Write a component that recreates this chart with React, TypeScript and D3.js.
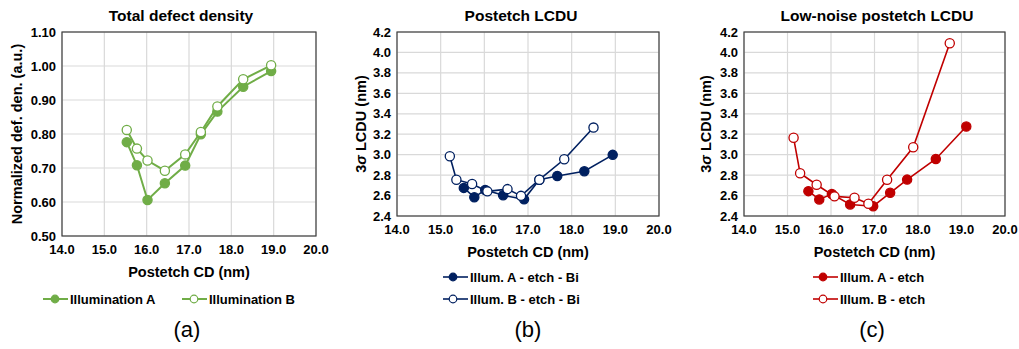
import React, { useRef, useEffect } from "react";
import * as d3 from "d3";

// Panel (a): total defect density
const defCdA = [15.53, 15.77, 16.02, 16.43, 16.91, 17.28, 17.67, 18.28, 18.94];
const defValA = [0.776, 0.708, 0.606, 0.655, 0.707, 0.799, 0.866, 0.939, 0.985];
const defCdB = [15.53, 15.77, 16.02, 16.43, 16.91, 17.28, 17.67, 18.28, 18.94];
const defValB = [0.812, 0.757, 0.722, 0.692, 0.74, 0.806, 0.881, 0.961, 1.002];

// Panel (b): postetch LCDU
const lcduCdA = [15.53, 15.77, 16.02, 16.43, 16.91, 17.26, 17.67, 18.29, 18.94];
const lcduValA = [2.675, 2.583, 2.655, 2.603, 2.563, 2.755, 2.792, 2.838, 2.998];
const lcduCdB = [15.21, 15.36, 15.72, 16.07, 16.53, 16.84, 17.26, 17.83, 18.5];
const lcduValB = [2.985, 2.755, 2.713, 2.641, 2.663, 2.597, 2.755, 2.955, 3.265];

// Panel (c): low-noise postetch LCDU
const lnCdA = [15.48, 15.73, 16.02, 16.44, 16.97, 17.36, 17.75, 18.41, 19.11];
const lnValA = [2.643, 2.562, 2.615, 2.513, 2.496, 2.627, 2.756, 2.958, 3.275];
const lnCdB = [15.14, 15.29, 15.67, 16.08, 16.54, 16.86, 17.29, 17.89, 18.73];
const lnValB = [3.165, 2.818, 2.706, 2.592, 2.578, 2.52, 2.755, 3.072, 4.09];

const xTicks = [14, 15, 16, 17, 18, 19, 20];
const defTicks = [0.5, 0.6, 0.7, 0.8, 0.9, 1.0, 1.1];
const lcduTicks = [2.4, 2.6, 2.8, 3.0, 3.2, 3.4, 3.6, 3.8, 4.0, 4.2];

const FONT = "'Liberation Sans', Arial, sans-serif";

interface Series {
  name: string;
  xs: number[];
  ys: number[];
  filled: boolean;
}

interface PanelCfg {
  title: string;
  titleX: number;
  left: number;
  right: number;
  top: number;
  bottom: number;
  yDomain: [number, number];
  yTicks: number[];
  yFmt: (v: number) => string;
  yTitle: string;
  sigma: boolean;
  yTitleX: number;
  color: string;
  lineW: number;
  series: Series[];
  legend: { x0: number; ys: number[] };
  label: string;
  labelX: number;
}

const panels: PanelCfg[] = [
  {
    title: "Total defect density",
    titleX: 181,
    left: 62, right: 316, top: 32, bottom: 236,
    yDomain: [0.5, 1.1], yTicks: defTicks, yFmt: d3.format(".2f"),
    yTitle: "Normalized def. den. (a.u.)", sigma: false, yTitleX: 17,
    color: "#70AD47", lineW: 2,
    series: [
      { name: "Illumination A", xs: defCdA, ys: defValA, filled: true },
      { name: "Illumination B", xs: defCdB, ys: defValB, filled: false },
    ],
    legend: { x0: 43, ys: [299, 299] },
    label: "(a)", labelX: 187,
  },
  {
    title: "Postetch LCDU",
    titleX: 521,
    left: 397, right: 659, top: 32, bottom: 216,
    yDomain: [2.4, 4.2], yTicks: lcduTicks, yFmt: d3.format(".1f"),
    yTitle: "LCDU (nm)", sigma: true, yTitleX: 361,
    color: "#002060", lineW: 1.6,
    series: [
      { name: "Illum. A - etch - Bi", xs: lcduCdA, ys: lcduValA, filled: true },
      { name: "Illum. B - etch - Bi", xs: lcduCdB, ys: lcduValB, filled: false },
    ],
    legend: { x0: 443, ys: [277, 299] },
    label: "(b)", labelX: 528,
  },
  {
    title: "Low-noise postetch LCDU",
    titleX: 877,
    left: 744, right: 1005, top: 32, bottom: 216,
    yDomain: [2.4, 4.2], yTicks: lcduTicks, yFmt: d3.format(".1f"),
    yTitle: "LCDU (nm)", sigma: true, yTitleX: 706,
    color: "#C00000", lineW: 1.6,
    series: [
      { name: "Illum. A - etch", xs: lnCdA, ys: lnValA, filled: true },
      { name: "Illum. B - etch", xs: lnCdB, ys: lnValB, filled: false },
    ],
    legend: { x0: 813, ys: [277, 299] },
    label: "(c)", labelX: 872,
  },
];

export default function App() {
  const ref = useRef<SVGSVGElement>(null);

  useEffect(() => {
    if (!ref.current) return;
    const svg = d3.select(ref.current);
    svg.selectAll("*").remove();

    svg.append("rect").attr("width", 1019).attr("height", 349).attr("fill", "#fff");

    panels.forEach((p, pi) => {
      const g = svg.append("g");
      const x = d3.scaleLinear().domain([14, 20]).range([p.left, p.right]);
      const y = d3.scaleLinear().domain(p.yDomain).range([p.bottom, p.top]);

      // gridlines
      xTicks.forEach(t => {
        g.append("line")
          .attr("x1", x(t)).attr("x2", x(t))
          .attr("y1", p.top).attr("y2", p.bottom)
          .attr("stroke", "#d9d9d9").attr("stroke-width", 1.2);
      });
      p.yTicks.forEach(t => {
        g.append("line")
          .attr("x1", p.left).attr("x2", p.right)
          .attr("y1", y(t)).attr("y2", y(t))
          .attr("stroke", "#d9d9d9").attr("stroke-width", 1.2);
      });

      // frame
      g.append("rect")
        .attr("x", p.left).attr("y", p.top)
        .attr("width", p.right - p.left).attr("height", p.bottom - p.top)
        .attr("fill", "none").attr("stroke", "#404040").attr("stroke-width", 1.2);

      // tick labels
      p.yTicks.forEach(t => {
        g.append("text")
          .attr("x", p.left - 6).attr("y", y(t))
          .attr("text-anchor", "end").attr("dominant-baseline", "central")
          .style("font", `bold 13px ${FONT}`).attr("fill", "#000")
          .text(p.yFmt(t));
      });
      xTicks.forEach(t => {
        g.append("text")
          .attr("x", x(t)).attr("y", p.bottom + 13)
          .attr("text-anchor", "middle").attr("dominant-baseline", "central")
          .style("font", `bold 13px ${FONT}`).attr("fill", "#000")
          .text(d3.format(".1f")(t));
      });

      // titles
      g.append("text")
        .attr("x", p.titleX).attr("y", 15)
        .attr("text-anchor", "middle").attr("dominant-baseline", "central")
        .style("font", `bold 15.5px ${FONT}`).attr("fill", "#000")
        .text(p.title);
      g.append("text")
        .attr("x", (p.left + p.right) / 2).attr("y", p.bottom + 36)
        .attr("text-anchor", "middle").attr("dominant-baseline", "central")
        .style("font", `bold 14.5px ${FONT}`).attr("fill", "#000")
        .text("Postetch CD (nm)");

      const yt = g.append("text")
        .attr("transform", `translate(${p.yTitleX},${(p.top + p.bottom) / 2}) rotate(-90)`)
        .attr("text-anchor", "middle").attr("dominant-baseline", "central")
        .style("font", `bold 14.5px ${FONT}`).attr("fill", "#000");
      if (p.sigma) {
        yt.append("tspan").text("3");
        yt.append("tspan").style("font-style", "italic").text("σ");
        yt.append("tspan").text(" " + p.yTitle);
      } else {
        yt.text(p.yTitle);
      }

      // series (A first, B drawn on top)
      const line = d3.line<[number, number]>().x(d => x(d[0])).y(d => y(d[1]));
      p.series.forEach(s => {
        const pts = s.xs.map((v, i) => [v, s.ys[i]] as [number, number]);
        g.append("path")
          .attr("d", line(pts) ?? "")
          .attr("fill", "none").attr("stroke", p.color).attr("stroke-width", p.lineW);
        g.selectAll(null)
          .data(pts)
          .enter()
          .append("circle")
          .attr("cx", d => x(d[0])).attr("cy", d => y(d[1]))
          .attr("r", 4.6)
          .attr("fill", s.filled ? p.color : "#fff")
          .attr("stroke", p.color).attr("stroke-width", 1.3);
      });

      // legend
      p.series.forEach((s, i) => {
        const ly = p.legend.ys[i];
        const lx = pi === 0 && i === 1 ? 182 : p.legend.x0;
        const lg = g.append("g");
        lg.append("line")
          .attr("x1", lx).attr("x2", lx + 25).attr("y1", ly).attr("y2", ly)
          .attr("stroke", p.color).attr("stroke-width", p.lineW);
        lg.append("circle")
          .attr("cx", lx + (pi === 0 ? 12 : 10)).attr("cy", ly).attr("r", 3.8)
          .attr("fill", s.filled ? p.color : "#fff")
          .attr("stroke", p.color).attr("stroke-width", 1.2);
        lg.append("text")
          .attr("x", lx + 27).attr("y", ly)
          .attr("dominant-baseline", "central")
          .style("font", `bold 13px ${FONT}`).attr("fill", "#000")
          .text(s.name);
      });

      // panel label
      g.append("text")
        .attr("x", p.labelX).attr("y", 329)
        .attr("text-anchor", "middle").attr("dominant-baseline", "central")
        .style("font", `22px ${FONT}`).attr("fill", "#000")
        .text(p.label);
    });
  }, []);

  return (
    <svg
      ref={ref}
      width={1019}
      height={349}
      style={{ position: "absolute", left: 0, top: 0, display: "block" }}
    />
  );
}
